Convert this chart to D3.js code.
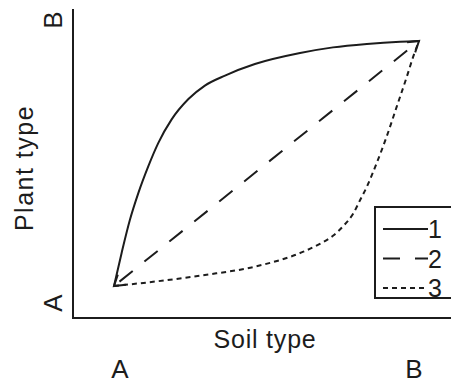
<!DOCTYPE html>
<html>
<head>
<meta charset="utf-8">
<script src="https://cdn.jsdelivr.net/npm/d3@7"></script>
<style>
  html, body { margin: 0; padding: 0; background: #fff; }
  svg { display: block; font-family: "Liberation Sans", Arial, Helvetica, sans-serif; }
</style>
</head>
<body>
<svg id="chart" width="451" height="383"></svg>
<script>
// Soil type (x) against plant type (y), both running from A (0) to B (1)
const categories = ["A", "B"];
const seriesNames = ["1", "2", "3"];

// Trajectory 1: rises steeply, then levels off
const series1x = [0, 0.025, 0.052, 0.080, 0.112, 0.145, 0.189, 0.244, 0.298, 0.364, 0.462, 0.610, 0.718, 0.829, 0.938, 1];
const series1y = [0, 0.135, 0.269, 0.380, 0.487, 0.583, 0.680, 0.763, 0.818, 0.859, 0.906, 0.951, 0.974, 0.988, 0.997, 1];

// Trajectory 2: straight diagonal
const series2x = [0, 1];
const series2y = [0, 1];

// Trajectory 3: stays low, then climbs sharply
const series3x = [0, 0.134, 0.298, 0.462, 0.621, 0.675, 0.719, 0.752, 0.785, 0.807, 0.829, 0.861, 0.894, 0.927, 0.960, 0.981, 1];
const series3y = [0, 0.018, 0.045, 0.079, 0.140, 0.172, 0.206, 0.245, 0.297, 0.351, 0.405, 0.501, 0.610, 0.732, 0.854, 0.936, 1];

const ink = "#1c1c1c";
const svg = d3.select("#chart");

const frame = { left: 73, right: 451, top: 9, bottom: 318 };

const x = d3.scaleLinear().domain([0, 1]).range([114, 419]);
const y = d3.scaleLinear().domain([0, 1]).range([286, 41]);

// Category labels along each axis
const xCat = d3.scalePoint().domain(categories).range([120, 414]);
const yCat = d3.scalePoint().domain(categories).range([303, 20]);

// Axis lines
svg.append("line")
  .attr("x1", frame.left).attr("x2", frame.left)
  .attr("y1", frame.top).attr("y2", frame.bottom + 1)
  .attr("stroke", ink).attr("stroke-width", 2);
svg.append("line")
  .attr("x1", frame.left - 1).attr("x2", frame.right)
  .attr("y1", frame.bottom).attr("y2", frame.bottom)
  .attr("stroke", ink).attr("stroke-width", 2);

// Axis category labels
svg.append("g").selectAll("text")
  .data(categories).join("text")
  .attr("x", d => xCat(d)).attr("y", 378)
  .attr("text-anchor", "middle")
  .attr("font-size", 26).attr("fill", ink)
  .text(d => d);

svg.append("g").selectAll("text")
  .data(categories).join("text")
  .attr("transform", d => `translate(62,${yCat(d)}) rotate(-90)`)
  .attr("text-anchor", "middle")
  .attr("font-size", 26).attr("fill", ink)
  .text(d => d);

// Axis titles
svg.append("text")
  .attr("x", 265).attr("y", 348)
  .attr("text-anchor", "middle")
  .attr("font-size", 25).attr("letter-spacing", 0.8).attr("fill", ink)
  .text("Soil type");

svg.append("text")
  .attr("transform", "translate(33,168) rotate(-90)")
  .attr("text-anchor", "middle")
  .attr("font-size", 25).attr("letter-spacing", 1.5).attr("fill", ink)
  .text("Plant type");

// Curves
const line = d3.line()
  .x(d => x(d[0])).y(d => y(d[1]))
  .curve(d3.curveMonotoneX);

const styles = {
  "1": { dash: null },
  "2": { dash: "17,15" },
  "3": { dash: "5,4" }
};

const curves = [
  { name: "1", pts: d3.zip(series1x, series1y) },
  { name: "2", pts: d3.zip(series2x, series2y) },
  { name: "3", pts: d3.zip(series3x, series3y) }
];

svg.append("g").selectAll("path")
  .data(curves).join("path")
  .attr("d", d => line(d.pts))
  .attr("fill", "none")
  .attr("stroke", ink)
  .attr("stroke-width", 2)
  .attr("stroke-dasharray", d => styles[d.name].dash)
  .attr("stroke-dashoffset", d => d.name === "2" ? -7 : 0);

// Open arrowheads at both ends of the diagonal
function arrowHead(tipX, tipY, fromX, fromY, len, spread) {
  const ang = Math.atan2(fromY - tipY, fromX - tipX);
  const a1 = ang + spread, a2 = ang - spread;
  return `M${tipX + len * Math.cos(a1)},${tipY + len * Math.sin(a1)}` +
         `L${tipX},${tipY}` +
         `L${tipX + len * Math.cos(a2)},${tipY + len * Math.sin(a2)}`;
}
const p0 = [x(series2x[0]), y(series2y[0])];
const p1 = [x(series2x[1]), y(series2y[1])];
svg.append("path")
  .attr("d", arrowHead(p0[0], p0[1], p1[0], p1[1], 12, Math.PI / 5.5))
  .attr("fill", "none").attr("stroke", ink).attr("stroke-width", 2);
svg.append("path")
  .attr("d", arrowHead(p1[0], p1[1], p0[0], p0[1], 12, Math.PI / 5.5))
  .attr("fill", "none").attr("stroke", ink).attr("stroke-width", 2);

// Legend
const legend = svg.append("g");
legend.append("rect")
  .attr("x", 375).attr("y", 207)
  .attr("width", 90).attr("height", 91)
  .attr("fill", "#fff").attr("stroke", ink).attr("stroke-width", 2);

const legendY = d3.scalePoint().domain(seriesNames).range([229, 288]);

legend.selectAll("line")
  .data(seriesNames).join("line")
  .attr("x1", 383).attr("x2", 428)
  .attr("y1", d => legendY(d)).attr("y2", d => legendY(d))
  .attr("stroke", ink).attr("stroke-width", 2)
  .attr("stroke-dasharray", d => styles[d].dash);

legend.selectAll("text")
  .data(seriesNames).join("text")
  .attr("x", 428).attr("y", d => legendY(d) + 9)
  .attr("font-size", 25).attr("fill", ink)
  .text(d => d);
</script>
</body>
</html>
